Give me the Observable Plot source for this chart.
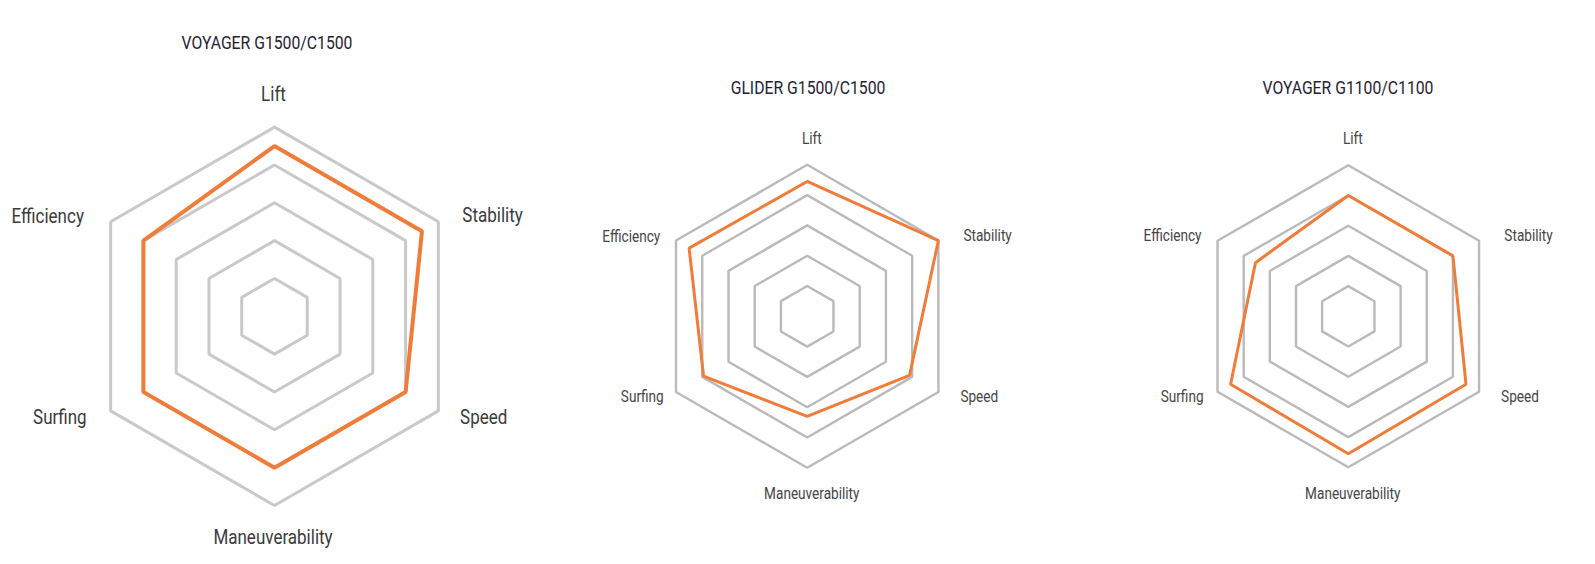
<!DOCTYPE html>
<html>
<head>
<meta charset="utf-8">
<script src="https://cdn.jsdelivr.net/npm/d3@7"></script>
<script src="https://cdn.jsdelivr.net/npm/@observablehq/plot@0.6"></script>
<style>
  html, body { margin: 0; padding: 0; background: #fff; }
  #wrap { position: relative; width: 1595px; height: 564px; overflow: hidden; font-family: Roboto, "Noto Sans", sans-serif; }
  .layer { position: absolute; left: 0; top: 0; }
  .title { position: absolute; white-space: nowrap; color: #1f2233; font-size: 18px; line-height: 1; font-family: Roboto, sans-serif; }
</style>
</head>
<body>
<div id="wrap"></div>
<script>
// ---- data ----
const axes = ["Lift", "Stability", "Speed", "Maneuverability", "Surfing", "Efficiency"];
const levels = [1, 2, 3, 4, 5];
const titles = ["VOYAGER G1500/C1500", "GLIDER G1500/C1500", "VOYAGER G1100/C1100"];
const voyagerG1500 = [4.5, 4.5, 4.0, 4.0, 4.0, 4.0];
const gliderG1500  = [4.45, 5.0, 3.9, 3.3, 3.95, 4.5];
const voyagerG1100 = [4.0, 4.0, 4.5, 4.55, 4.5, 3.55];
const series = [voyagerG1500, gliderG1500, voyagerG1100];

// ---- layout / style ----
const layouts = [
  { cx: 274, cy: 315.8, ux: 37.84, uy: 37.84, grid: "#c9c9c9", gridW: 3, lineW: 4, fs: 20, fill: "#3a3a3a", squeeze: 0.85,
    title: [266.7, 42.5], tsq: 0.875,
    off: [[-1, -33], [24, -6], [21.7, 6.7], [-1.5, 32.3], [-24, 7], [-26.7, -5.5]] },
  { cx: 806.7, cy: 315.8, ux: 30.3, uy: 30.3, grid: "#bababa", gridW: 2.4, lineW: 3, fs: 16, fill: "#454545", squeeze: 0.85,
    title: [807.5, 88.3], tsq: 0.875,
    off: [[4.6, -26], [25, -5], [22, 4.5], [4.6, 26], [-12.3, 5], [-15.7, -4]] },
  { cx: 1347.8, cy: 315.8, ux: 30.2, uy: 30.2, grid: "#bababa", gridW: 2.4, lineW: 3, fs: 16, fill: "#454545", squeeze: 0.85,
    title: [1348, 88.3], tsq: 0.875,
    off: [[4.5, -26.5], [25.3, -5], [22, 4.7], [4.5, 26.5], [-14, 5.4], [-16, -4.6]] }
];
const anchors = ["middle", "start", "start", "middle", "end", "end"];
const orange = "#f07c3a";

const angle = i => i * Math.PI / 3;
const wrap = document.getElementById("wrap");

series.forEach((vals, k) => {
  const L = layouts[k];
  const ring = levels.flatMap(lv => axes.map((a, i) => ({ level: lv, axis: a, x: lv * Math.sin(angle(i)), y: lv * Math.cos(angle(i)) })));
  const prod = axes.map((a, i) => ({ axis: a, value: vals[i], x: vals[i] * Math.sin(angle(i)), y: vals[i] * Math.cos(angle(i)) }));
  const maxLv = d3.max(levels);
  const labelMarks = axes.map((a, i) => Plot.text([{ axis: a, x: maxLv * Math.sin(angle(i)), y: maxLv * Math.cos(angle(i)) }], {
    x: "x", y: "y", text: "axis", dx: L.off[i][0], dy: L.off[i][1], textAnchor: anchors[i],
    fontSize: L.fs, fill: L.fill, fontFamily: "Roboto"
  }));
  const chart = Plot.plot({
    width: 1595, height: 564, margin: 0,
    style: { background: "transparent", overflow: "visible" },
    x: { domain: [-maxLv, maxLv], range: [L.cx - maxLv * L.ux, L.cx + maxLv * L.ux], axis: null },
    y: { domain: [-maxLv, maxLv], range: [L.cy + maxLv * L.uy, L.cy - maxLv * L.uy], axis: null },
    marks: [
      Plot.line(ring, { x: "x", y: "y", z: "level", curve: "linear-closed", stroke: L.grid, strokeWidth: L.gridW, strokeLinejoin: "miter", strokeLinecap: "butt" }),
      Plot.line(prod, { x: "x", y: "y", curve: "linear-closed", stroke: orange, strokeWidth: L.lineW, strokeLinejoin: "miter", strokeLinecap: "butt" }),
      ...labelMarks
    ]
  });
  chart.classList.add("layer");
  wrap.appendChild(chart);
  chart.querySelectorAll("text").forEach(t => {
    const len = t.getComputedTextLength();
    t.setAttribute("textLength", (len * L.squeeze).toFixed(2));
    t.setAttribute("lengthAdjust", "spacingAndGlyphs");
  });
  const tt = document.createElement("div");
  tt.className = "title";
  tt.textContent = titles[k];
  tt.style.left = L.title[0] + "px";
  tt.style.top = L.title[1] + "px";
  tt.style.transform = `translate(-50%, -50%) scaleX(${L.tsq})`;
  wrap.appendChild(tt);
});
</script>
</body>
</html>
